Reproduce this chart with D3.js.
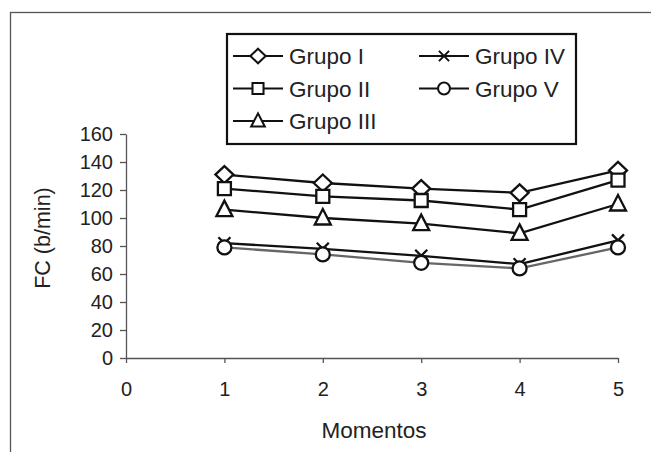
<!DOCTYPE html>
<html>
<head>
<meta charset="utf-8">
<script src="https://cdn.jsdelivr.net/npm/d3@7"></script>
<style>
  body { margin: 0; background: #fff; }
  svg { display: block; font-family: "Liberation Sans", Arial, sans-serif; }
</style>
</head>
<body>
<div class="container"></div>
<script>
// FC (heart rate) per group across the five moments
const momentos = [1, 2, 3, 4, 5];
const grupoI = [131, 125, 121, 118, 134];
const grupoII = [121, 115.5, 112.5, 106, 127];
const grupoIII = [106, 100, 96, 89, 110];
const grupoIV = [82, 78, 73, 67, 84];
const grupoV = [79, 74, 68, 64, 79];

const seriesNames = ['Grupo I', 'Grupo II', 'Grupo III', 'Grupo IV', 'Grupo V'];
const seriesMarkers = ['diamond', 'square', 'triangle', 'x', 'circle'];
const xTicks = [0, 1, 2, 3, 4, 5];
const yTicks = [0, 20, 40, 60, 80, 100, 120, 140, 160];

const width = 651;
const height = 452;

const series = [grupoI, grupoII, grupoIII, grupoIV, grupoV].map((values, i) => ({
    name: seriesNames[i],
    marker: seriesMarkers[i],
    values,
}));

function markerPath(type) {
    if (type === 'diamond') return 'M0,-8.5L9,0L0,8.5L-9,0Z';
    if (type === 'square') return 'M-6.5,-6.5h13v13h-13Z';
    if (type === 'triangle') return 'M0,-9L8,6.5L-8,6.5Z';
    if (type === 'x') return 'M-6,-6L6,6M6,-6L-6,6';
    const p = d3.path();
    p.arc(0, 0, 7, 0, 2 * Math.PI);
    p.closePath();
    return p.toString();
}

function draw() {
    const svg = d3.select('.container')
        .append('svg')
        .attr('width', width)
        .attr('height', height);

    // outer frame (only left and top edges fall inside the picture)
    svg.append('rect')
        .attr('x', 10.5).attr('y', 12.5)
        .attr('width', 700).attr('height', 500)
        .attr('fill', 'none')
        .attr('stroke', '#555')
        .attr('stroke-width', 1.3);

    const x = d3.scaleLinear().domain([0, 5]).range([126, 618]);
    const y = d3.scaleLinear().domain([0, 160]).range([358, 134]);

    const yAxis = svg.append('g')
        .attr('transform', `translate(${x(0)},0)`)
        .call(d3.axisLeft(y).tickValues(yTicks).tickFormat(d3.format('d'))
            .tickSize(6).tickSizeOuter(0).tickPadding(7));
    yAxis.selectAll('text').attr('font-size', 20).attr('fill', '#222').attr('font-family', null);

    const xAxis = svg.append('g')
        .attr('transform', `translate(0,${y(0)})`)
        .call(d3.axisBottom(x).tickValues(xTicks).tickFormat(d3.format('d'))
            .tickSize(5).tickSizeOuter(0).tickPadding(19));
    xAxis.selectAll('text').attr('font-size', 20).attr('fill', '#222').attr('font-family', null);

    svg.selectAll('.domain, .tick line').attr('stroke', '#555').attr('stroke-width', 1.3);

    svg.append('text')
        .attr('transform', `translate(${x(2.5) + 2},438)`)
        .attr('text-anchor', 'middle')
        .attr('font-size', 22.5)
        .attr('fill', '#222')
        .text('Momentos');

    svg.append('text')
        .attr('transform', 'translate(50,238) rotate(-90)')
        .attr('text-anchor', 'middle')
        .attr('font-size', 21.5)
        .attr('fill', '#222')
        .text('FC (b/min)');

    const line = d3.line()
        .x((d, i) => x(momentos[i]))
        .y(d => y(d));

    const groups = svg.selectAll('.serie')
        .data(series)
        .enter()
        .append('g')
        .attr('class', 'serie');

    groups.append('path')
        .attr('d', d => line(d.values))
        .attr('fill', 'none')
        .attr('stroke', d => d.marker === 'circle' ? '#666' : '#111')
        .attr('stroke-width', 2.3);

    groups.selectAll('.mark')
        .data(d => d.values.map((v, i) => ({ v, i, marker: d.marker })))
        .enter()
        .append('path')
        .attr('class', 'mark')
        .attr('transform', d => `translate(${x(momentos[d.i])},${y(d.v)})`)
        .attr('d', d => markerPath(d.marker))
        .attr('fill', d => d.marker === 'x' ? 'none' : '#fff')
        .attr('stroke', '#111')
        .attr('stroke-width', 2.3);

    // legend
    const legend = svg.append('g');
    legend.append('rect')
        .attr('x', 227).attr('y', 34)
        .attr('width', 349).attr('height', 110)
        .attr('fill', '#fff')
        .attr('stroke', '#111')
        .attr('stroke-width', 2.2);

    const legendPos = [
        [233, 56], [233, 88.5], [233, 121],
        [419, 56], [419, 88.5],
    ];

    const items = legend.selectAll('.item')
        .data(series)
        .enter()
        .append('g')
        .attr('class', 'item')
        .attr('transform', (d, i) => `translate(${legendPos[i][0]},${legendPos[i][1]})`);

    items.append('line')
        .attr('x1', 0).attr('x2', 50)
        .attr('stroke', '#111')
        .attr('stroke-width', 2.2);

    items.append('path')
        .attr('transform', 'translate(25,0) scale(0.85)')
        .attr('d', d => markerPath(d.marker))
        .attr('fill', d => d.marker === 'x' ? 'none' : '#fff')
        .attr('stroke', '#111')
        .attr('stroke-width', 2.4);

    items.append('text')
        .attr('x', 56)
        .attr('y', 8)
        .attr('font-size', 22.5)
        .attr('fill', '#222')
        .text(d => d.name);
}

draw();
</script>
</body>
</html>
